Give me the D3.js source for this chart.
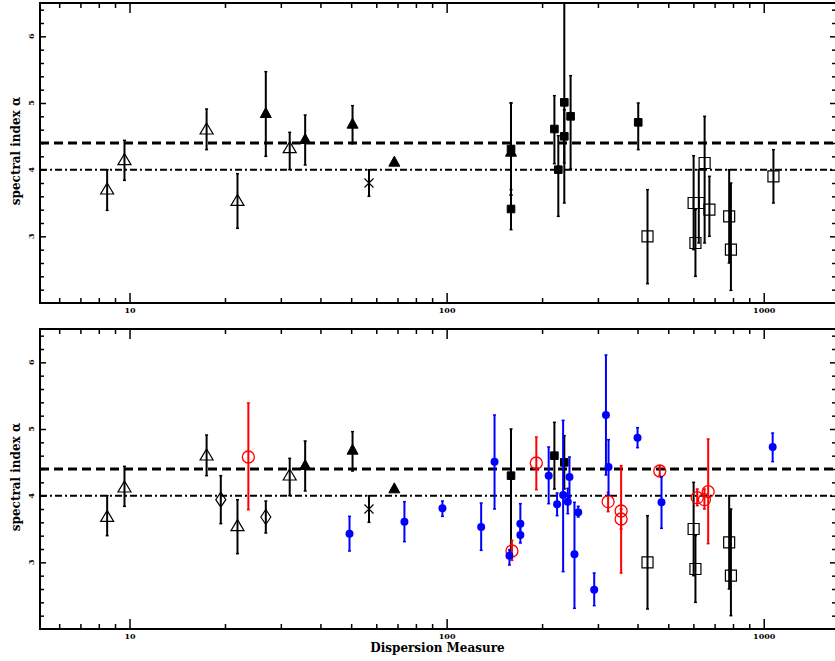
<!DOCTYPE html>
<html>
<head>
<meta charset="utf-8">
<script src="https://cdn.jsdelivr.net/npm/d3@7"></script>
<style>
  body { margin: 0; background: white; }
  text { font-family: "DejaVu Serif", serif; font-weight: bold; }
</style>
</head>
<body>
<div id="container"></div>
<script>
let w = 835;
let h = 661;

// each point: [DM, alpha, bar low, bar high]
// ---- top panel
let topOpenTri = [[8.5,3.71,3.39,4.0],[9.64,4.15,3.84,4.44],[17.5,4.61,4.3,4.91],[21.9,3.54,3.12,3.94],[32.0,4.33,4.0,4.56]];
let topFilledTri = [[26.9,4.85,4.2,5.47],[35.8,4.46,4.07,4.82],[50.5,4.69,4.39,4.96],[68.4,4.12,4.12,4.12],[159.6,4.27,3.62,5.0]];
let topCross = [[56.9,3.8,3.6,4.0]];
let topFilledSq = [[159.6,4.31,3.62,5.0],[159.6,3.41,3.1,3.7],[218.7,4.61,4.09,5.11],[225,4.0,3.3,4.51],[235,5.01,3.5,6.6],[235,4.5,4.1,4.9],[246,4.8,4.01,5.41],[402,4.71,4.3,5.0]];
let topOpenSq = [[430,3.0,2.29,3.7],[601,3.5,2.8,4.21],[609,2.9,2.4,3.4],[624,3.5,2.9,4.0],[651,4.1,2.9,4.8],[674,3.4,3.0,3.9],[778,3.3,2.6,4.0],[788,2.8,2.19,3.8],[1073,3.9,3.5,4.3]];

// ---- bottom panel
let botOpenTri = [[8.5,3.69,3.4,4.0],[9.64,4.13,3.84,4.44],[17.5,4.61,4.3,4.91],[21.9,3.55,3.13,3.94],[32.0,4.31,4.0,4.56]];
let botFilledTri = [[35.8,4.46,4.07,4.82],[50.5,4.69,4.37,4.96],[68.4,4.11,4.11,4.11]];
let botCross = [[56.9,3.8,3.6,4.0]];
let botDiamond = [[19.4,3.94,3.58,4.3],[26.9,3.68,3.44,3.92]];
let botFilledSq = [[159.6,4.3,3.15,5.0],[218.7,4.6,4.1,5.1],[235,4.5,4.1,4.9]];
let botOpenSq = [[430,3.0,2.3,3.7],[601,3.5,2.8,4.2],[609,2.9,2.4,3.4],[778,3.3,2.6,4.0],[788,2.8,2.2,3.8]];
let botRed = [[23.7,4.58,3.79,5.39],[160.7,3.17,3.03,3.33],[191.8,4.49,4.09,4.88],[323,3.91,3.76,4.05],[355,3.77,2.84,4.45],[355,3.65,3.5,3.8],[470,4.37,4.3,4.45],[617,3.97,3.85,4.1],[650,3.94,3.8,4.1],[668,4.06,3.28,4.85]];
let botBlue = [[49.4,3.43,3.17,3.69],[73.6,3.61,3.31,3.91],[97,3.81,3.69,3.92],[128.5,3.53,3.18,3.89],[141.6,4.51,3.8,5.21],[157.8,3.1,2.96,3.19],[170.8,3.58,3.4,3.88],[170.8,3.41,3.29,3.55],[209.8,4.3,3.88,4.73],[223,3.87,3.7,4.04],[233,4.01,2.86,5.13],[241,3.91,3.73,4.11],[244,4.28,3.97,4.58],[253,3.12,2.31,3.9],[260,3.75,3.68,3.84],[292,2.59,2.35,2.84],[318,5.21,4.31,6.11],[324,4.43,4.01,4.84],[400,4.87,4.72,5.02],[476,3.9,3.51,4.28],[1067,4.73,4.51,4.94]];

let xTicks = [10,100,1000];
let xMinor = [6,7,8,9,20,30,40,50,60,70,80,90,200,300,400,500,600,700,800,900];
let yTicks = [3,4,5,6];
let yMinor = [2.2,2.4,2.6,2.8,3.2,3.4,3.6,3.8,4.2,4.4,4.6,4.8,5.2,5.4,5.6,5.8,6.2,6.4];
let hLines = [4.4, 4.0];

let viz = d3.select("#container")
  .append("svg")
    .attr("width", w)
    .attr("height", h)
    .style("background-color", "white");

let xScale = d3.scaleLog().domain([5.22,1690]).range([40,836]);

function makePanel(top, bottom, series, showTitle){
  let yScale = d3.scaleLinear().domain([2,6.5]).range([bottom,top]);
  let g = viz.append('g');

  // reference lines
  g.append('line').attr('x1',40).attr('x2',836)
    .attr('y1',yScale(hLines[0])).attr('y2',yScale(hLines[0]))
    .attr('stroke','black').attr('stroke-width',3).attr('stroke-dasharray','9,5');
  g.append('line').attr('x1',40).attr('x2',836)
    .attr('y1',yScale(hLines[1])).attr('y2',yScale(hLines[1]))
    .attr('stroke','black').attr('stroke-width',2).attr('stroke-dasharray','7,3,2,3');

  let clip = 'clip' + top;
  g.append('clipPath').attr('id',clip).append('rect')
    .attr('x',40).attr('y',top).attr('width',796).attr('height',bottom-top);
  let plot = g.append('g').attr('clip-path','url(#'+clip+')');

  series.forEach(function(s){
    let sg = plot.append('g');
    let pts = sg.selectAll('g.pt').data(s.data).enter().append('g').attr('class','pt');
    // error bars
    pts.append('line')
      .attr('x1',d=>xScale(d[0])).attr('x2',d=>xScale(d[0]))
      .attr('y1',d=>yScale(d[2])).attr('y2',d=>yScale(d[3]))
      .attr('stroke',s.color).attr('stroke-width',2);
    [2,3].forEach(function(k){
      pts.append('line')
        .attr('x1',d=>xScale(d[0])-1.5).attr('x2',d=>xScale(d[0])+1.5)
        .attr('y1',d=>yScale(d[k])).attr('y2',d=>yScale(d[k]))
        .attr('stroke',s.color).attr('stroke-width',1.5);
    });
    pts.append('path')
      .attr('transform',d=>"translate("+xScale(d[0])+","+yScale(d[1])+")")
      .attr('d',s.shape)
      .attr('fill',s.fill)
      .attr('stroke',s.color)
      .attr('stroke-width',s.sw);
  });

  // axes: ticks inward
  let bAxis = d3.axisBottom(xScale).tickValues(xTicks).tickSize(-10).tickPadding(4).tickFormat(d3.format("d"));
  let bMinor = d3.axisBottom(xScale).tickValues(xMinor).tickSize(-5).tickFormat("");
  let tAxis = d3.axisTop(xScale).tickValues(xTicks).tickSize(-10).tickFormat("");
  let tMinor = d3.axisTop(xScale).tickValues(xMinor).tickSize(-5).tickFormat("");
  let lAxis = d3.axisLeft(yScale).tickValues(yTicks).tickSize(-6).tickFormat("");
  let lMinor = d3.axisLeft(yScale).tickValues(yMinor).tickSize(-4).tickFormat("");
  let rAxis = d3.axisRight(yScale).tickValues(yTicks).tickSize(-6).tickFormat("");
  let rMinor = d3.axisRight(yScale).tickValues(yMinor).tickSize(-4).tickFormat("");

  let axes = [[bAxis,0,bottom],[bMinor,0,bottom],[tAxis,0,top],[tMinor,0,top],
              [lAxis,40,0],[lMinor,40,0],[rAxis,836,0],[rMinor,836,0]];
  axes.forEach(function(a){
    let ag = g.append('g').attr('transform','translate('+a[1]+','+a[2]+')').call(a[0]);
    ag.select('.domain').remove();
    ag.selectAll('line').attr('stroke','black').attr('stroke-width',1.5);
    ag.selectAll('text').attr('font-size',8).attr('font-family','DejaVu Serif').attr('font-weight','bold').attr('fill','black');
  });

  // rotated y tick labels
  g.selectAll('text.ylab').data(yTicks).enter().append('text')
    .attr('class','ylab')
    .attr('transform',d=>"translate(31.5,"+yScale(d)+") rotate(-90)")
    .attr('text-anchor','middle').attr('dy','0.35em')
    .attr('font-size',8)
    .text(d=>d);

  // frame
  g.append('rect').attr('x',40).attr('y',top).attr('width',796).attr('height',bottom-top)
    .attr('fill','none').attr('stroke','black').attr('stroke-width',2);

  g.append('text')
    .attr('transform',"translate(16,"+((top+bottom)/2-2)+") rotate(-90)")
    .attr('text-anchor','middle').attr('dy','0.35em')
    .attr('font-size',12)
    .text('spectral index \u03B1');

  if (showTitle){
    g.append('text').attr('x',437.5).attr('y',652)
      .attr('text-anchor','middle').attr('font-size',12)
      .text('Dispersion Measure');
  }
}

let triShape = "M0,-6L6.5,5L-6.5,5Z";
let ftriShape = "M0,-5.5L5.5,4.5L-5.5,4.5Z";
let sqShape = "M-5.5,-5.5H5.5V5.5H-5.5Z";
let fsqShape = "M-3.8,-3.8H3.8V3.8H-3.8Z";
let diaShape = "M0,-7.5L5,0L0,7.5L-5,0Z";
let crossShape = "M-4.5,-4.5L4.5,4.5M-4.5,4.5L4.5,-4.5";
let circShape = d3.symbol().type(d3.symbolCircle).size(Math.PI*36)();
let dotShape = d3.symbol().type(d3.symbolCircle).size(Math.PI*16)();

makePanel(3, 303, [
  {data: topOpenTri, shape: triShape, fill: 'none', color: 'black', sw: 1.2},
  {data: topFilledTri, shape: ftriShape, fill: 'black', color: 'black', sw: 1},
  {data: topCross, shape: crossShape, fill: 'none', color: 'black', sw: 1.2},
  {data: topFilledSq, shape: fsqShape, fill: 'black', color: 'black', sw: 1},
  {data: topOpenSq, shape: sqShape, fill: 'none', color: 'black', sw: 1.2}
], false);

makePanel(329, 629, [
  {data: botOpenTri, shape: triShape, fill: 'none', color: 'black', sw: 1.2},
  {data: botFilledTri, shape: ftriShape, fill: 'black', color: 'black', sw: 1},
  {data: botCross, shape: crossShape, fill: 'none', color: 'black', sw: 1.2},
  {data: botDiamond, shape: diaShape, fill: 'none', color: 'black', sw: 1.2},
  {data: botFilledSq, shape: fsqShape, fill: 'black', color: 'black', sw: 1},
  {data: botOpenSq, shape: sqShape, fill: 'none', color: 'black', sw: 1.2},
  {data: botRed, shape: circShape, fill: 'none', color: 'red', sw: 1.3},
  {data: botBlue, shape: dotShape, fill: 'blue', color: 'blue', sw: 0}
], true);
</script>
</body>
</html>
